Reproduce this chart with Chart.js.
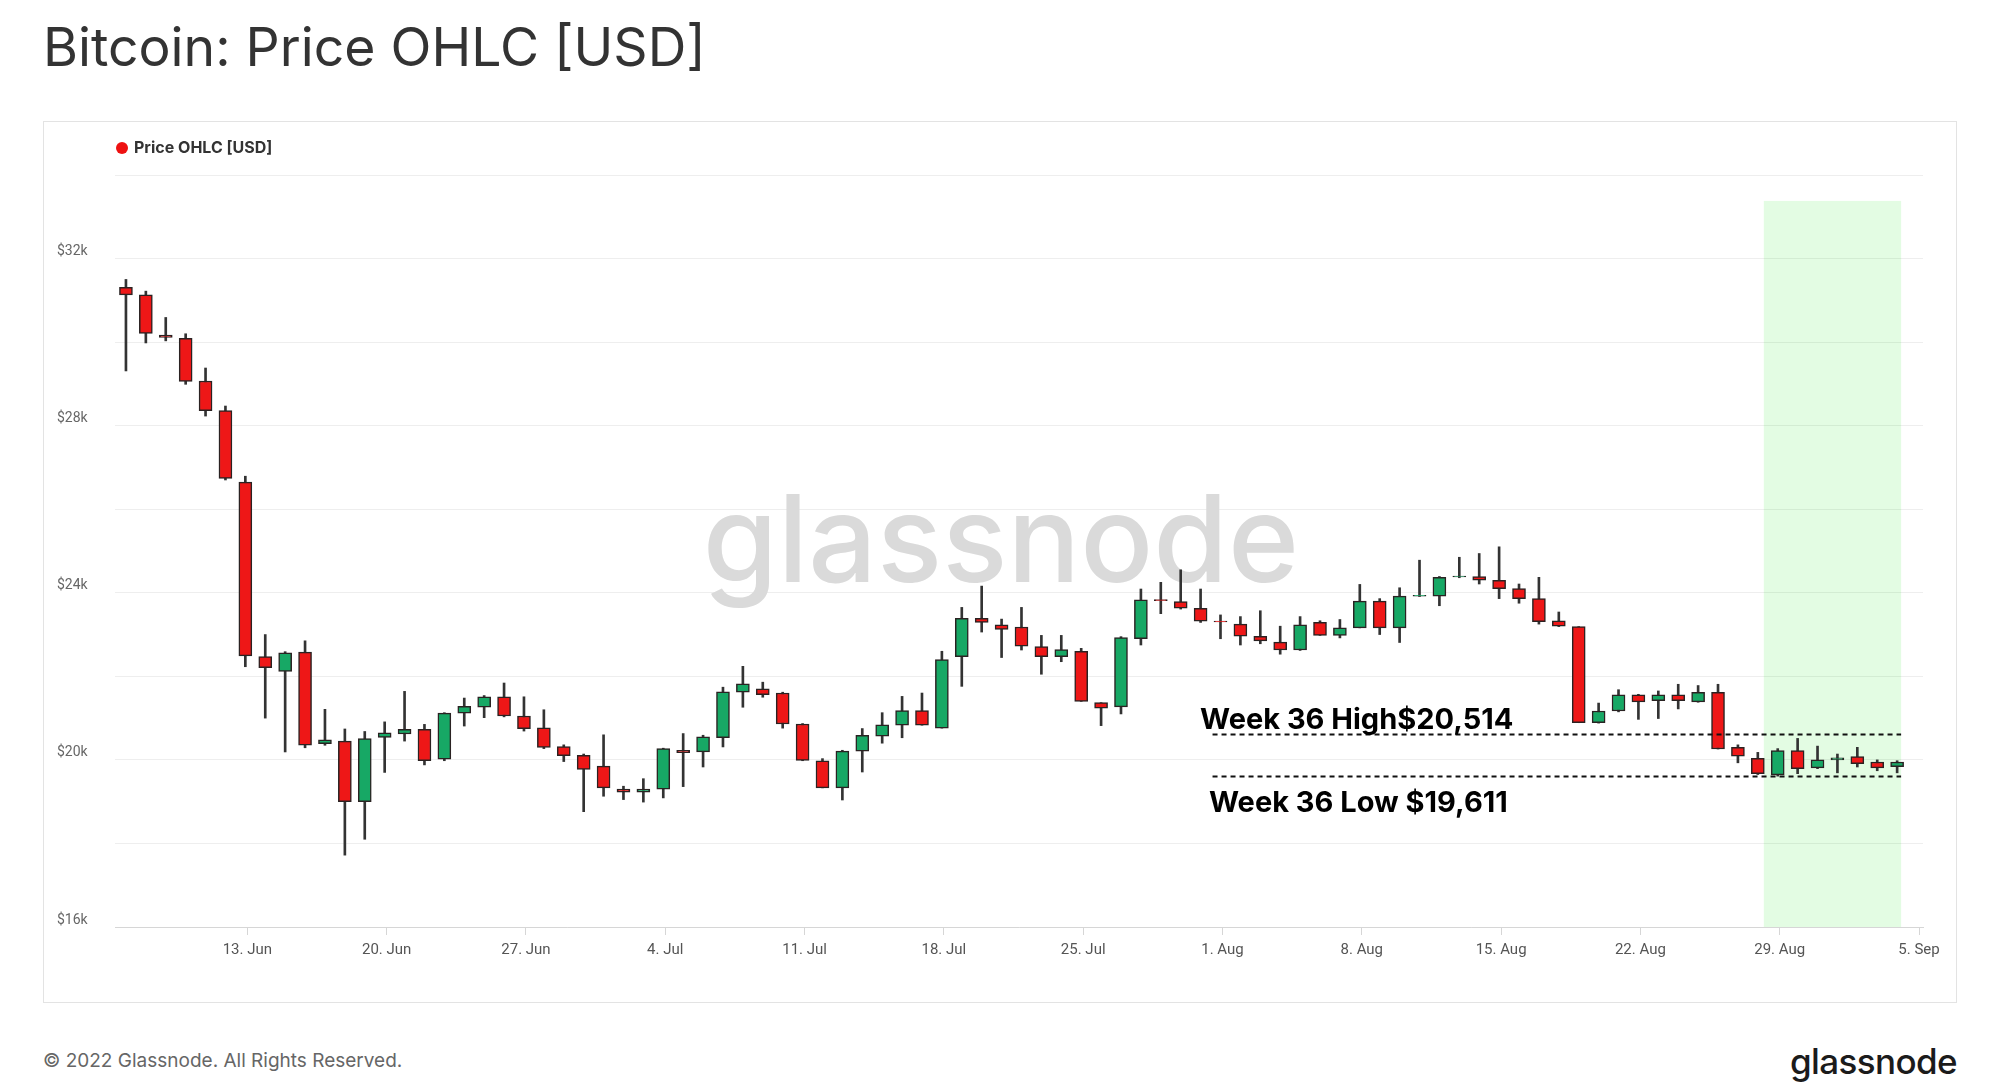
<!DOCTYPE html>
<html lang="en">
<head>
<meta charset="utf-8">
<title>Bitcoin: Price OHLC [USD]</title>
<script src="https://cdn.jsdelivr.net/npm/chart.js@4.4.0/dist/chart.umd.min.js"></script>
<style>
  html, body { margin: 0; padding: 0; background: #fff; }
  body { width: 2000px; height: 1092px; position: relative; overflow: hidden; font-family: Inter, Roboto, sans-serif; }
  #titulo { position: absolute; left: 43px; top: 17px; font-size: 53.5px; line-height: 60px; font-weight: 400; color: #333; white-space: nowrap; }
  #caixa { position: absolute; left: 43px; top: 121px; width: 1914px; height: 882px; border: 1px solid #e3e3e3; box-sizing: border-box; }
  #legenda { position: absolute; left: 116px; top: 137px; font-size: 16px; line-height: 20px; font-weight: 700; color: #333; white-space: nowrap; }
  #legenda span.ponto { display: inline-block; width: 12px; height: 12px; border-radius: 50%; background: #ee1111; margin-right: 6px; vertical-align: -1px; }
  #rodape { position: absolute; left: 43px; top: 1050px; font-size: 19px; line-height: 22px; color: #666; white-space: nowrap; }
  #logo { position: absolute; right: 43px; top: 1040px; font-size: 35px; line-height: 42px; font-weight: 500; color: #1b1b1b; letter-spacing: -0.6px; }
</style>
</head>
<body>
<div id="titulo">Bitcoin: Price OHLC [USD]</div>
<div id="caixa"><canvas id="grafico"></canvas></div>
<div id="legenda"><span class="ponto"></span>Price OHLC [USD]</div>
<div id="rodape">© 2022 Glassnode. All Rights Reserved.</div>
<div id="logo">glassnode</div>

<script>
// Dados diários (7 Jun – 4 Sep 2022)
const dias = [
  "7 Jun","8 Jun","9 Jun","10 Jun","11 Jun","12 Jun","13 Jun","14 Jun","15 Jun","16 Jun","17 Jun","18 Jun","19 Jun","20 Jun","21 Jun","22 Jun","23 Jun","24 Jun","25 Jun","26 Jun","27 Jun","28 Jun","29 Jun","30 Jun",
  "1 Jul","2 Jul","3 Jul","4 Jul","5 Jul","6 Jul","7 Jul","8 Jul","9 Jul","10 Jul","11 Jul","12 Jul","13 Jul","14 Jul","15 Jul","16 Jul","17 Jul","18 Jul","19 Jul","20 Jul","21 Jul","22 Jul","23 Jul","24 Jul","25 Jul","26 Jul","27 Jul","28 Jul","29 Jul","30 Jul","31 Jul",
  "1 Aug","2 Aug","3 Aug","4 Aug","5 Aug","6 Aug","7 Aug","8 Aug","9 Aug","10 Aug","11 Aug","12 Aug","13 Aug","14 Aug","15 Aug","16 Aug","17 Aug","18 Aug","19 Aug","20 Aug","21 Aug","22 Aug","23 Aug","24 Aug","25 Aug","26 Aug","27 Aug","28 Aug","29 Aug","30 Aug","31 Aug",
  "1 Sep","2 Sep","3 Sep","4 Sep"
];

const abertura = [
  31310, 31130, 30170, 30090, 29070, 28360, 26650, 22470, 22120, 22580,
  20390, 20450, 19000, 20540, 20620, 20730, 20020, 21120, 21260, 21510,
  21050, 20770, 20320, 20110, 19850, 19300, 19230, 19300, 20230, 20190,
  20530, 21620, 21700, 21600, 20860, 19980, 19330, 20210, 20570, 20830,
  21180, 20760, 22470, 23390, 23230, 23180, 22710, 22470, 22600, 21370,
  21270, 22900, 23840, 23790, 23630, 23320, 23250, 22960, 22820, 22630,
  23290, 22980, 23160, 23800, 23160, 23920, 23920, 24380, 24390, 24300,
  24100, 23860, 23330, 23190, 20890, 21170, 21560, 21420, 21560, 21390,
  21620, 20300, 20040, 19640, 20220, 19810, 20000, 20080, 19950, 19840
];
const maxima = [
  31500, 31220, 30590, 30200, 29380, 28470, 26790, 23000, 22590, 22850,
  21210, 20740, 20680, 20910, 21640, 20850, 21130, 21480, 21540, 21840,
  21510, 21200, 20360, 20140, 20600, 19370, 19550, 20280, 20630, 20590,
  21740, 22240, 21860, 21620, 20870, 20030, 20230, 20750, 21130, 21520,
  21600, 22600, 23650, 24160, 23370, 23650, 22980, 22980, 22670, 21370,
  22950, 24090, 24250, 24550, 24090, 23470, 23430, 23570, 23200, 23430,
  23330, 23360, 24200, 23860, 24120, 24780, 24390, 24850, 24940, 25100,
  24210, 24370, 23540, 23190, 21360, 21680, 21570, 21650, 21810, 21780,
  21810, 20360, 20180, 20270, 20514, 20330, 20140, 20300, 20000, 19980
];
const minima = [
  29310, 29980, 30030, 28990, 28230, 26700, 22230, 21000, 20190, 20290,
  20350, 17720, 18100, 19700, 20450, 19880, 19980, 20810, 21010, 21030,
  20690, 20270, 19960, 18760, 19130, 19050, 18990, 19090, 19360, 19830,
  20310, 21260, 21500, 20760, 19980, 19330, 19040, 19710, 20400, 20530,
  20830, 20760, 21760, 23060, 22450, 22630, 22050, 22350, 21400, 20820,
  21100, 22750, 23500, 23610, 23290, 22900, 22750, 22780, 22530, 22620,
  22980, 22920, 23160, 23000, 22810, 23910, 23690, 24360, 24210, 23860,
  23750, 23250, 23190, 20890, 20880, 21150, 20970, 20990, 21220, 21380,
  20260, 19930, 19650, 19611, 19670, 19790, 19690, 19830, 19740, 19690
];
const fechamento = [
  31130, 30210, 30110, 29060, 28360, 26740, 22490, 22210, 22560, 20350,
  20480, 19000, 20510, 20650, 20730, 19980, 21120, 21280, 21510, 21050,
  20750, 20300, 20100, 19770, 19330, 19230, 19300, 20270, 20170, 20550,
  21630, 21820, 21560, 20860, 19990, 19330, 20210, 20590, 20840, 21180,
  20830, 22400, 23390, 23290, 23120, 22720, 22470, 22640, 21400, 21240,
  22930, 23830, 23810, 23630, 23320, 23300, 22960, 22850, 22630, 23230,
  22980, 23160, 23800, 23160, 23920, 23940, 24370, 24400, 24300, 24100,
  23860, 23310, 23200, 20890, 21170, 21560, 21390, 21560, 21420, 21620,
  20260, 20090, 19670, 20220, 19790, 20000, 20050, 19910, 19810, 19950
];

// Rótulos do eixo X (índice do dia a partir de 7 Jun)
const diasTick = [6, 13, 20, 27, 34, 41, 48, 55, 62, 69, 76, 83, 90];
const rotulosTick = ["13. Jun", "20. Jun", "27. Jun", "4. Jul", "11. Jul", "18. Jul", "25. Jul", "1. Aug", "8. Aug", "15. Aug", "22. Aug", "29. Aug", "5. Sep"];

// Semana 36
const semanaInicio = 83;
const semanaFim = 89;
const semanaMax = 20514;
const semanaMin = 19611;

const VERMELHO = "#ee1717";
const VERDE = "#17a865";
const CONTORNO = "#2a2222";

const corpos = dias.map((d, i) => ({ x: i, y: [abertura[i], fechamento[i]] }));
const pavios = dias.map((d, i) => ({ x: i, y: [minima[i], maxima[i]] }));
const coresCorpo = dias.map((d, i) => fechamento[i] >= abertura[i] ? VERDE : VERMELHO);

const fmt = v => "$" + v.toLocaleString("en-US");

const extras = {
  id: "extras",
  beforeDatasetsDraw(chart) {
    const { ctx, chartArea, scales: { x, y } } = chart;
    ctx.save();
    // marca d'água
    ctx.font = "500 121px Inter";
    ctx.fillStyle = "#dadada";
    ctx.textAlign = "center";
    ctx.textBaseline = "alphabetic";
    ctx.fillText("glassnode", (chartArea.left + chartArea.right) / 2 - 18, (chartArea.top + chartArea.bottom) / 2 + 31);
    // faixa verde da semana 36
    const x0 = x.getPixelForValue(semanaInicio - 0.7);
    const x1 = x.getPixelForValue(semanaFim + 0.2);
    const yTopo = y.getPixelForValue(33380);
    ctx.fillStyle = "rgba(0, 230, 0, 0.11)";
    ctx.fillRect(x0, yTopo, x1 - x0, chartArea.bottom - yTopo);
    ctx.restore();
  },
  afterDatasetsDraw(chart) {
    const { ctx, scales: { x, y } } = chart;
    ctx.save();
    const xa = x.getPixelForValue(54.6);
    const xb = x.getPixelForValue(semanaFim + 0.2);
    // a linha da máxima fica um pouco acima do valor, como no original
    const yMax = Math.round(y.getPixelForValue(semanaMax) - 4) + 0.5;
    const yMin = Math.round(y.getPixelForValue(semanaMin)) + 0.5;
    ctx.strokeStyle = "#111";
    ctx.lineWidth = 2;
    ctx.setLineDash([5, 4]);
    [yMax, yMin].forEach(yy => {
      ctx.beginPath();
      ctx.moveTo(xa, yy);
      ctx.lineTo(xb, yy);
      ctx.stroke();
    });
    ctx.setLineDash([]);
    ctx.fillStyle = "#000";
    ctx.font = "700 29px Inter";
    ctx.textAlign = "left";
    ctx.textBaseline = "alphabetic";
    ctx.fillText("Week 36 High" + fmt(semanaMax), x.getPixelForValue(53.97), yMax - 6);
    ctx.fillText("Week 36 Low " + fmt(semanaMin), x.getPixelForValue(54.42), yMin + 35);
    ctx.restore();
  }
};

new Chart(document.getElementById("grafico"), {
  type: "bar",
  data: {
    datasets: [
      {
        label: "Price OHLC [USD]",
        data: corpos,
        backgroundColor: coresCorpo,
        borderColor: CONTORNO,
        borderWidth: 1.5,
        borderSkipped: false,
        barThickness: 13,
        grouped: false,
        order: 0
      },
      {
        label: "pavio",
        data: pavios,
        backgroundColor: "#333",
        borderWidth: 0,
        barThickness: 2,
        grouped: false,
        order: 1
      }
    ]
  },
  options: {
    responsive: true,
    maintainAspectRatio: false,
    animation: false,
    devicePixelRatio: 1,
    layout: { padding: { left: 13, top: 53, right: 33, bottom: 0 } },
    plugins: { legend: { display: false }, tooltip: { enabled: false } },
    scales: {
      x: {
        type: "linear",
        min: -0.55,
        max: 90.3,
        offset: false,
        grid: { display: true, drawOnChartArea: false, drawTicks: true, tickLength: 8, color: "#d6d6d6", offset: false },
        border: { display: true, color: "#d6d6d6" },
        afterBuildTicks: s => { s.ticks = diasTick.map(v => ({ value: v + 0.1 })); },
        afterFit: s => { s.height = 75; },
        ticks: {
          autoSkip: false,
          maxRotation: 0,
          padding: 6,
          color: "#555",
          font: { family: "Roboto", size: 15 },
          callback: v => rotulosTick[diasTick.indexOf(Math.round(v))] || ""
        }
      },
      y: {
        type: "linear",
        min: 16000,
        max: 34000,
        beginAtZero: false,
        grid: { color: "#eeeeee", drawTicks: false },
        border: { display: false },
        afterFit: s => { s.width = 58; },
        ticks: {
          stepSize: 2000,
          crossAlign: "far",
          labelOffset: -7,
          color: "#666",
          font: { family: "Roboto", size: 14 },
          callback: v => v % 4000 === 0 ? "$" + (v / 1000) + "k" : ""
        }
      }
    }
  },
  plugins: [extras]
});
</script>
</body>
</html>
